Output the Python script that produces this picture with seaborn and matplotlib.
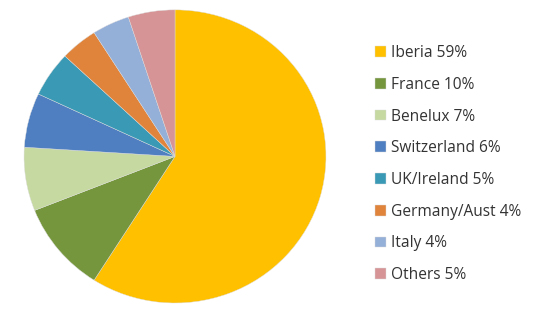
import matplotlib
matplotlib.use("Agg")
import matplotlib.pyplot as plt
import seaborn as sns

regions = ["Iberia", "France", "Benelux", "Switzerland", "UK/Ireland",
           "Germany/Aust", "Italy", "Others"]
shares = [59, 10, 7, 6, 5, 4, 4, 5]
colors = ["#FFC000", "#76963E", "#C5D9A0", "#4F7FC1", "#3A9AB5",
          "#E0843C", "#94AFD8", "#D69496"]

sns.set_theme(style="white")
plt.rcParams["font.family"] = ["Open Sans", "DejaVu Sans"]

fig = plt.figure(figsize=(5.36, 3.11), dpi=100)
ax = fig.add_axes([0.042, 0.021, 0.569, 0.952])

wedges, _ = ax.pie(shares, colors=colors, startangle=90, counterclock=False,
                   wedgeprops=dict(linewidth=0.3, edgecolor="#dddddd"))
ax.set_xlim(-1.01, 1.01)
ax.set_ylim(-1.01, 1.01)
# source image is slightly stretched horizontally
ax.set_aspect("auto")

labels = [f"{r} {s}%" for r, s in zip(regions, shares)]
fig.legend(wedges, labels, loc="upper left", bbox_to_anchor=(0.674, 0.9),
           frameon=False, fontsize=11.2, handlelength=0.68, handleheight=0.68,
           handletextpad=0.32, labelspacing=1.01, labelcolor="#333333")

fig.savefig("out.png", dpi=100)
